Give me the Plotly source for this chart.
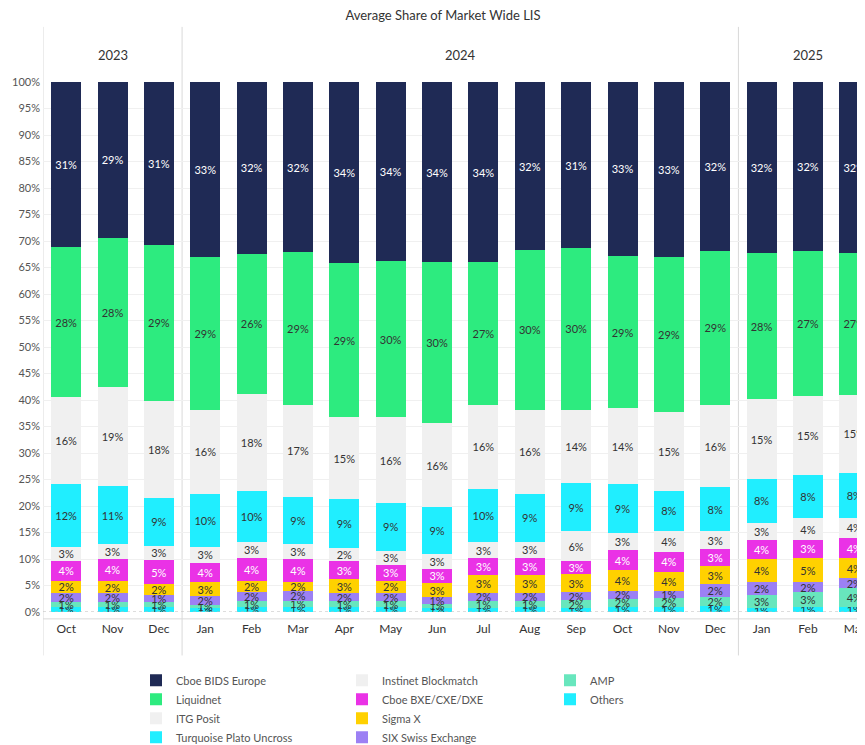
import plotly.graph_objects as go

# ---- data ----
periods = ["2023-10", "2023-11", "2023-12", "2024-01", "2024-02", "2024-03", "2024-04", "2024-05", "2024-06",
           "2024-07", "2024-08", "2024-09", "2024-10", "2024-11", "2024-12", "2025-01", "2025-02", "2025-03"]
month_labels = ["Oct", "Nov", "Dec", "Jan", "Feb", "Mar", "Apr", "May", "Jun",
                "Jul", "Aug", "Sep", "Oct", "Nov", "Dec", "Jan", "Feb", "Mar"]
years = ["2023", "2024", "2025"]

others = [1.0, 1.0, 1.0, 0.8, 1.0, 1.0, 1.0, 1.0, 0.8, 0.8, 0.9, 0.7, 0.9, 0.9, 1.1, 0.7, 1.0, 0.9]
amp = [0.8, 0.9, 0.9, 0.6, 1.0, 1.1, 1.0, 1.0, 0.7, 1.3, 1.2, 1.5, 1.6, 1.7, 1.8, 2.6, 2.8, 3.6]
six_swiss = [1.8, 1.6, 1.3, 1.6, 1.8, 1.9, 1.5, 1.6, 1.3, 1.5, 1.5, 1.6, 1.5, 1.4, 2.3, 2.4, 1.8, 1.9]
sigma_x = [2.3, 2.4, 2.0, 2.6, 2.1, 1.7, 2.7, 2.3, 2.7, 3.4, 3.4, 3.3, 3.9, 3.6, 3.4, 4.3, 4.6, 3.7]
cboe_bxe = [3.7, 4.1, 4.6, 3.7, 4.3, 4.3, 3.4, 3.0, 2.7, 3.1, 3.1, 2.6, 3.8, 3.7, 3.2, 3.6, 3.4, 3.9]
instinet = [2.7, 2.8, 2.7, 3.0, 3.0, 2.9, 2.4, 2.7, 2.8, 3.1, 3.2, 5.5, 3.2, 4.0, 3.4, 3.2, 4.1, 3.8]
turquoise = [11.9, 11.0, 9.1, 10.0, 9.7, 8.8, 9.3, 9.0, 8.8, 10.1, 9.0, 9.2, 9.3, 7.6, 8.3, 8.3, 8.2, 8.4]
itg_posit = [16.3, 18.7, 18.3, 15.8, 18.3, 17.4, 15.4, 16.1, 15.8, 15.8, 15.9, 13.8, 14.2, 14.9, 15.6, 15.0, 14.9, 14.8]
liquidnet = [28.4, 28.1, 29.3, 28.8, 26.4, 28.8, 29.2, 29.6, 30.4, 26.9, 30.1, 30.4, 28.8, 29.2, 29.0, 27.6, 27.3, 26.7]
cboe_bids = [31.1, 29.4, 30.8, 33.1, 32.4, 32.1, 34.1, 33.7, 34.0, 34.0, 31.7, 31.4, 32.8, 33.0, 31.9, 32.3, 31.9, 32.3]

# (name, values, color, text color, legend, rank) in stacking order bottom -> top
series = [
    ("Others", others, "#20eeff", "#333333", "legend3", 10),
    ("AMP", amp, "#68e6bd", "#333333", "legend3", 9),
    ("SIX Swiss Exchange", six_swiss, "#9c80f4", "#333333", "legend2", 8),
    ("Sigma X", sigma_x, "#ffd100", "#333333", "legend2", 7),
    ("Cboe BXE/CXE/DXE", cboe_bxe, "#ea32e6", "#ffffff", "legend2", 6),
    ("Instinet Blockmatch", instinet, "#f0f0f0", "#333333", "legend2", 5),
    ("Turquoise Plato Uncross", turquoise, "#20eeff", "#333333", "legend", 4),
    ("ITG Posit", itg_posit, "#f0f0f0", "#333333", "legend", 3),
    ("Liquidnet", liquidnet, "#2deb7f", "#333333", "legend", 2),
    ("Cboe BIDS Europe", cboe_bids, "#1f2a55", "#ffffff", "legend", 1),
]

FONT = "Lato, 'Open Sans', sans-serif"

fig = go.Figure()
for name, vals, color, tcolor, leg, rank in series:
    fig.add_trace(go.Bar(
        x=periods, y=vals, name=name,
        marker=dict(color=color, line=dict(width=0)),
        texttemplate="%{y:.0f}%", textposition="inside", insidetextanchor="middle",
        textangle=0, constraintext="none",
        textfont=dict(color=tcolor, size=11, family=FONT),
        legend=leg, legendrank=rank,
        hovertemplate=name + ": %{y:.1f}%<extra></extra>",
    ))

# year groups
year_idx = {y: [i for i, p in enumerate(periods) if p.startswith(y)] for y in years}

shapes = []
# panel separators (left border + year boundaries)
bounds = [-0.5] + [max(year_idx[y]) + 0.5 for y in years[:-1]]
for b in bounds:
    shapes.append(dict(type="line", xref="x", yref="paper", x0=b, x1=b, y0=-0.082, y1=1.104,
                       line=dict(color="#d9d9d9", width=1), layer="below"))
# dotted zero line
shapes.append(dict(type="line", xref="paper", yref="y", x0=0, x1=1, y0=0, y1=0,
                   line=dict(color="#bbbbbb", width=1, dash="dot"), layer="above"))
# axis line under the bars
shapes.append(dict(type="line", xref="paper", yref="paper", x0=0, x1=1, y0=-0.013, y1=-0.013,
                   line=dict(color="#d9d9d9", width=1), layer="below"))

annotations = []
for y in years:
    idx = year_idx[y]
    annotations.append(dict(x=sum(idx) / len(idx), y=1.051, xref="x", yref="paper", text=y,
                            xanchor="center", yanchor="middle",
                            showarrow=False, font=dict(size=13, color="#333333", family=FONT)))

legend_common = dict(orientation="v", yanchor="top", xanchor="left", traceorder="normal",
                     font=dict(size=11, color="#555555", family=FONT), bgcolor="rgba(0,0,0,0)",
                     itemclick=False, itemdoubleclick=False, tracegroupgap=0)

LEG_Y = -0.1015

fig.update_layout(
    width=857, height=737,
    margin=dict(l=35, r=0, t=74, b=133, autoexpand=False),
    paper_bgcolor="white", plot_bgcolor="white",
    barmode="stack", bargap=0.353,
    font=dict(family=FONT, color="#333333"),
    title=dict(text="Average Share of Market Wide LIS", x=435 / 857, xref="container", xanchor="center",
               y=1 - 7 / 737, yref="container", yanchor="middle",
               font=dict(size=13, color="#333333", family=FONT)),
    xaxis=dict(type="category", range=[-0.5, 17.23], tickmode="array", tickvals=periods,
               ticktext=month_labels, showgrid=False, zeroline=False, showline=False, ticks="",
               tickfont=dict(size=12, color="#333333", family=FONT), ticklabelstandoff=8),
    yaxis=dict(range=[0, 100], dtick=5, ticksuffix="%", showgrid=True, gridcolor="#f0f0f0", gridwidth=1,
               zeroline=False, showline=False, ticks="",
               tickfont=dict(size=11, color="#555555", family=FONT), ticklabelstandoff=2),
    uniformtext=dict(minsize=11, mode="show"),
    shapes=shapes, annotations=annotations,
    legend=dict(x=93 / 822, y=LEG_Y, **legend_common),
    legend2=dict(x=299 / 822, y=LEG_Y, **legend_common),
    legend3=dict(x=507 / 822, y=LEG_Y, **legend_common),
)

fig.write_html("out.html")
